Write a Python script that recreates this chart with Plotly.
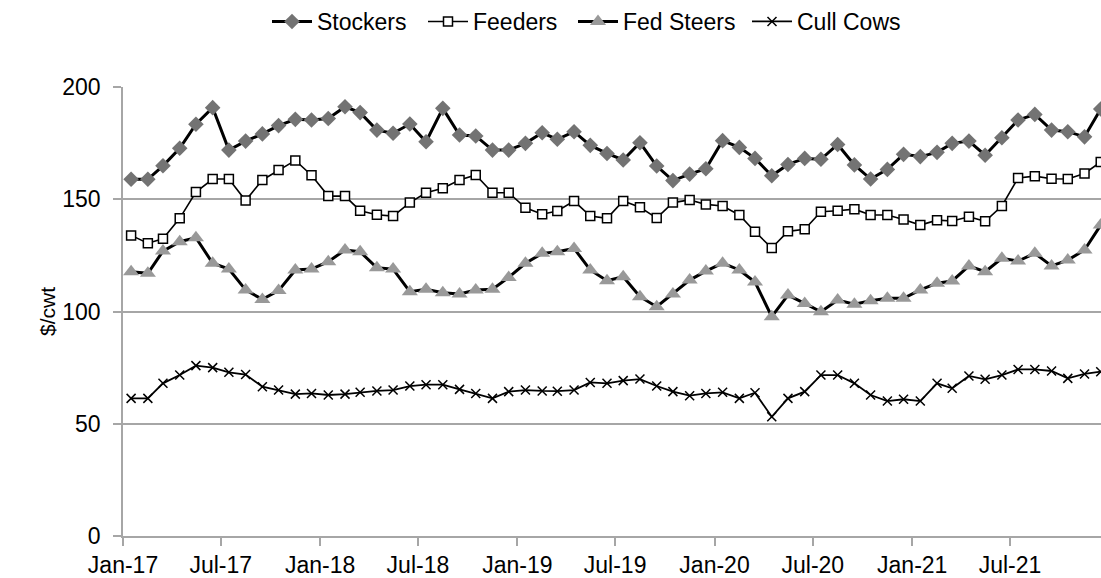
import pandas as pd
import plotly.graph_objects as go

months = [f"{y}-{m:02d}" for y in range(2017, 2022) for m in range(1, 13)]

stockers = [158.9, 158.9, 164.9, 172.7, 183.4, 190.8, 171.9, 175.9, 179.1, 182.8,
            185.6, 185.3, 186.0, 191.2, 188.6, 180.8, 179.4, 183.5, 175.6, 190.5,
            178.6, 178.2, 171.9, 171.9, 174.9, 179.6, 176.7, 180.1, 174.0, 170.4,
            167.5, 175.2, 164.8, 158.3, 161.2, 163.6, 176.1, 173.1, 168.2, 160.5,
            165.5, 168.2, 167.8, 174.4, 165.3, 159.0, 163.3, 170.0, 169.0, 170.9,
            174.9, 175.9, 169.6, 177.4, 185.3, 187.8, 180.8, 180.1, 177.8, 190.2]

feeders = [133.9, 130.4, 132.4, 141.5, 153.2, 159.0, 159.0, 149.4, 158.6, 163.0,
           167.3, 160.7, 151.4, 151.4, 144.9, 143.1, 142.5, 148.5, 152.9, 154.9,
           158.6, 160.8, 152.9, 152.9, 146.2, 143.3, 144.8, 149.2, 142.5, 141.5,
           149.2, 146.4, 141.6, 148.5, 149.7, 147.7, 147.0, 143.0, 135.5, 128.3,
           135.7, 136.6, 144.4, 144.9, 145.6, 143.0, 143.0, 141.0, 138.5, 140.7,
           140.3, 142.2, 140.2, 147.0, 159.5, 160.3, 159.1, 159.0, 161.5, 166.6]

fed_steers = [117.7, 117.0, 126.9, 131.1, 132.9, 121.5, 118.9, 109.6, 105.4, 109.3,
              118.5, 118.9, 122.2, 127.4, 126.6, 119.5, 118.9, 108.8, 109.9, 108.4,
              107.8, 109.6, 109.9, 115.2, 121.5, 125.9, 126.6, 128.1, 118.5, 113.7,
              115.5, 106.6, 102.1, 107.8, 114.0, 118.0, 121.5, 118.5, 113.1, 97.7,
              107.3, 103.6, 99.9, 105.1, 103.2, 104.8, 105.9, 105.9, 109.6, 112.6,
              113.6, 120.3, 117.7, 123.7, 122.5, 125.9, 120.3, 122.9, 127.4, 138.5]

cull_cows = [61.3, 61.3, 68.0, 71.7, 75.9, 75.0, 72.9, 71.9, 66.5, 65.0,
             63.2, 63.5, 62.8, 63.2, 64.0, 64.6, 65.0, 66.8, 67.4, 67.4,
             65.3, 63.5, 61.3, 64.3, 65.0, 64.6, 64.5, 65.0, 68.4, 68.0,
             69.2, 69.9, 66.8, 64.3, 62.5, 63.5, 64.0, 61.3, 63.8, 53.1,
             61.3, 64.3, 71.7, 71.7, 68.0, 62.8, 60.1, 60.9, 60.1, 68.0,
             65.8, 71.3, 69.8, 71.7, 74.2, 74.2, 73.5, 70.2, 72.2, 73.2]

tick_labels = ["Jan-17", "Jul-17", "Jan-18", "Jul-18", "Jan-19", "Jul-19",
               "Jan-20", "Jul-20", "Jan-21", "Jul-21"]

# points sit in the middle of each month, ticks at month starts
x = pd.to_datetime(months, format="%Y-%m") + pd.Timedelta(days=15)
tick_vals = pd.to_datetime(tick_labels, format="%b-%y")

FONT = "Liberation Sans, Arial, Helvetica, sans-serif"
GRID = "#a6a6a6"

fig = go.Figure()
fig.add_trace(go.Scatter(
    x=x, y=stockers, name="Stockers", mode="lines+markers", legend="legend",
    line=dict(color="black", width=3),
    marker=dict(symbol="diamond", size=12, color="#737373", line=dict(width=0))))
fig.add_trace(go.Scatter(
    x=x, y=feeders, name="Feeders", mode="lines+markers", legend="legend2",
    line=dict(color="black", width=1.6),
    marker=dict(symbol="square", size=9, color="white", line=dict(color="black", width=1.5))))
fig.add_trace(go.Scatter(
    x=x, y=fed_steers, name="Fed Steers", mode="lines+markers", legend="legend3",
    line=dict(color="black", width=3),
    marker=dict(symbol="triangle-up", size=14, color="#999999", line=dict(width=0))))
fig.add_trace(go.Scatter(
    x=x, y=cull_cows, name="Cull Cows", mode="lines+markers", legend="legend4",
    line=dict(color="black", width=1.8),
    marker=dict(symbol="x-thin", size=9, color="black", line=dict(color="black", width=1.5))))

PLOT_L, PLOT_W = 123, 978


def legend_at(px):
    return dict(orientation="h", x=(px - PLOT_L) / PLOT_W, xanchor="left",
                y=1.147, yanchor="middle", itemwidth=40,
                font=dict(size=23), bgcolor="rgba(0,0,0,0)")


fig.update_layout(
    width=1101, height=578,
    margin=dict(l=PLOT_L, r=0, t=87, b=42),
    plot_bgcolor="white", paper_bgcolor="white",
    font=dict(family=FONT, size=23, color="black"),
    showlegend=True,
    legend=legend_at(267), legend2=legend_at(423),
    legend3=legend_at(573), legend4=legend_at(747),
    xaxis=dict(type="date", range=["2017-01-01", "2021-12-16 12:00"],
               tickvals=tick_vals, ticktext=tick_labels, automargin=False,
               showgrid=False, showline=True, linecolor=GRID, linewidth=1.5,
               ticks="outside", ticklen=8, tickcolor=GRID, tickwidth=1.5,
               tickfont=dict(size=23), ticklabelstandoff=0, zeroline=False),
    yaxis=dict(range=[0, 200], tickvals=[0, 50, 100, 150, 200], automargin=False,
               showgrid=True, gridcolor=GRID, gridwidth=1.5,
               showline=True, linecolor=GRID, linewidth=1.5,
               ticks="outside", ticklen=8, tickcolor=GRID, tickwidth=1.5,
               tickfont=dict(size=23), ticklabelstandoff=8, zeroline=False,
               title=dict(text="$/cwt", font=dict(size=21), standoff=1)),
)

# remove the browser's default 8px page margin so the figure fills the window
fig.write_html("out.html", config={"displayModeBar": False},
               post_script="document.body.style.margin='0';")
